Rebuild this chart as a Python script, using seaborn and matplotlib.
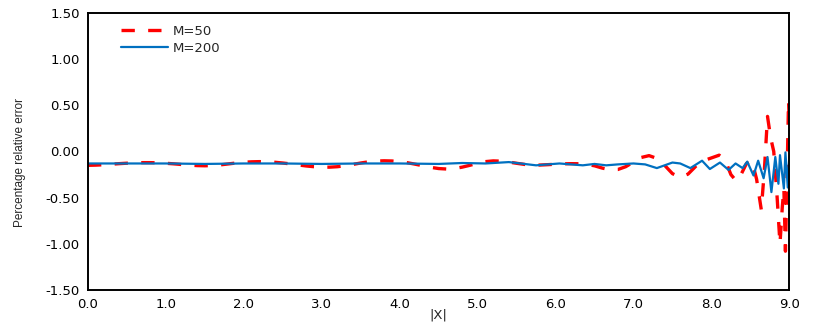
import pandas as pd
import matplotlib
matplotlib.use("Agg")
import matplotlib.pyplot as plt
import seaborn as sns

# M=50 (red dashed)
x50 = [0.0, 0.1, 0.2, 0.3, 0.4, 0.5, 0.6, 0.7, 0.8, 0.9,
       1.0, 1.1, 1.2, 1.3, 1.4, 1.5, 1.6, 1.7, 1.8, 1.9,
       2.0, 2.1, 2.2, 2.3, 2.4, 2.5, 2.6, 2.7, 2.8, 2.9,
       3.0, 3.1, 3.2, 3.3, 3.4, 3.5, 3.6, 3.7, 3.8, 3.9,
       4.0, 4.1, 4.2, 4.3, 4.4, 4.5, 4.6, 4.7, 4.8, 4.9,
       5.0, 5.1, 5.2, 5.3, 5.4, 5.5, 5.6, 5.7, 5.8, 5.9,
       6.0, 6.1, 6.2, 6.3, 6.4, 6.5, 6.6, 6.7, 6.8, 6.9,
       7.0, 7.1, 7.2, 7.3, 7.4, 7.5, 7.6, 7.7, 7.8, 7.9,
       8.0, 8.1, 8.18, 8.25, 8.32, 8.38, 8.45, 8.52, 8.58, 8.64,
       8.68, 8.72, 8.76, 8.80, 8.84, 8.88, 8.91, 8.93, 8.95, 8.97,
       8.99, 9.0]
y50 = [-0.150, -0.148, -0.144, -0.138, -0.132, -0.127, -0.123, -0.121, -0.121, -0.123,
       -0.128, -0.134, -0.141, -0.148, -0.153, -0.155, -0.152, -0.145, -0.135, -0.125,
       -0.117, -0.112, -0.110, -0.112, -0.117, -0.125, -0.135, -0.146, -0.157, -0.165,
       -0.170, -0.170, -0.165, -0.155, -0.140, -0.125, -0.112, -0.104, -0.101, -0.103,
       -0.110, -0.122, -0.138, -0.155, -0.172, -0.185, -0.190, -0.185, -0.170, -0.150,
       -0.128, -0.110, -0.102, -0.105, -0.115, -0.128, -0.140, -0.146, -0.147, -0.143,
       -0.138, -0.134, -0.132, -0.133, -0.140, -0.155, -0.180, -0.198, -0.195, -0.165,
       -0.115, -0.065, -0.045, -0.075, -0.150, -0.240, -0.280, -0.245, -0.160, -0.100,
       -0.070, -0.040, -0.100, -0.250, -0.320, -0.250, -0.130, -0.100, -0.300, -0.630,
       -0.200, 0.380, 0.150, 0.000, -0.450, -1.000, -0.600, -0.400, -1.080, -0.300,
       0.550, 0.300]

# M=200 (blue solid)
x200 = [0.0, 0.5, 1.0, 1.5, 2.0, 2.5, 3.0, 3.5, 4.0, 4.5,
        4.8, 5.1, 5.4, 5.6, 5.75, 5.9, 6.05, 6.2, 6.35, 6.5,
        6.65, 6.8, 7.0, 7.15, 7.3, 7.4, 7.5, 7.6, 7.73, 7.88,
        7.98, 8.11, 8.22, 8.31, 8.40, 8.46, 8.54, 8.60, 8.67, 8.72,
        8.77, 8.82, 8.86, 8.88, 8.93, 8.95, 8.98, 9.0]
y200 = [-0.13, -0.13, -0.13, -0.135, -0.13, -0.13, -0.135, -0.13, -0.13, -0.135,
        -0.125, -0.13, -0.115, -0.135, -0.15, -0.14, -0.13, -0.14, -0.15, -0.135,
        -0.15, -0.14, -0.13, -0.14, -0.18, -0.15, -0.12, -0.13, -0.18, -0.10,
        -0.19, -0.12, -0.20, -0.13, -0.18, -0.11, -0.26, -0.10, -0.29, -0.06,
        -0.44, -0.06, -0.35, -0.04, -0.40, -0.01, -0.39, -0.06]

sns.set_style("white")
fig = plt.figure(figsize=(8.3, 3.24), dpi=100)
ax = fig.add_axes([0.106, 0.105, 0.845, 0.855])

df50 = pd.DataFrame({"x": x50, "y": y50})
df200 = pd.DataFrame({"x": x200, "y": y200})

sns.lineplot(data=df50, x="x", y="y", ax=ax, color="#FF0000", linewidth=2.4,
             sort=False, label="M=50")
ax.lines[-1].set_dashes([4, 4])
sns.lineplot(data=df200, x="x", y="y", ax=ax, color="#0070C0", linewidth=1.6,
             sort=False, label="M=200")

ax.set_xlim(0, 9)
ax.set_ylim(-1.5, 1.5)
ax.set_xticks([0, 1, 2, 3, 4, 5, 6, 7, 8, 9])
ax.set_xticklabels([f"{v:.1f}" for v in range(10)])
yt = [-1.5, -1.0, -0.5, 0.0, 0.5, 1.0, 1.5]
ax.set_yticks(yt)
ax.set_yticklabels([f"{v:.2f}" for v in yt])
ax.tick_params(length=0, labelsize=9.5, colors="black", pad=6)

for s in ax.spines.values():
    s.set_color("black")
    s.set_linewidth(1.4)

ax.set_xlabel("|X|", fontsize=9.5, labelpad=-2)
ax.set_ylabel("Percentage relative error", fontsize=8.5,
              family=["Liberation Sans", "DejaVu Sans"], labelpad=15)
ax.yaxis.set_label_coords(-0.088, 0.46)

leg = ax.legend(loc="upper left", frameon=False, fontsize=9.5,
                bbox_to_anchor=(0.03, 1.0), handlelength=3.6, handletextpad=0.3,
                labelspacing=0.3)

fig.savefig("out.png", dpi=100)
